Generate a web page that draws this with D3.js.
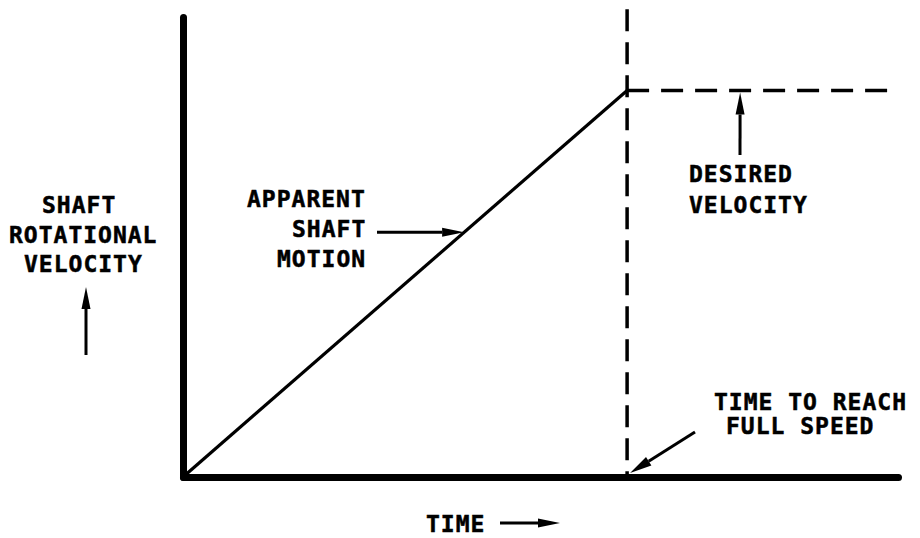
<!DOCTYPE html>
<html lang="en">
<head>
  <meta charset="utf-8">
  <title>Shaft rotational velocity</title>
  <script src="https://cdn.jsdelivr.net/npm/d3@7/dist/d3.min.js"></script>
  <style>
    body { margin: 0; background: #fff; }
    text { font-family: "DejaVu Sans Mono", monospace; font-weight: bold; font-size: 23px; letter-spacing: 1px; fill: #000; stroke: #000; stroke-width: 0.5px; }
  </style>
</head>
<body>
  <div id="chart-area"></div>
  <script>
    // data (time and velocity in units of "time to full speed" / "desired velocity")
    var timeDomain = [0, 1.61];
    var velocityDomain = [0, 1.19];
    var ramp = [{ t: 0, v: 0 }, { t: 1, v: 1 }];
    var desiredLine = [{ t: 1, v: 1 }, { t: 1.606, v: 1 }];
    var fullSpeedLine = [{ t: 1, v: 0 }, { t: 1, v: 1.21 }];

    var yLabel = ["SHAFT", "ROTATIONAL", "VELOCITY"];
    var rampLabel = ["APPARENT", "SHAFT", "MOTION"];
    var desiredLabel = ["DESIRED", "VELOCITY"];
    var fullSpeedLabel = ["TIME TO REACH", "FULL SPEED"];
    var xLabel = "TIME";

    var svgWidth = 920, svgHeight = 538;
    var svg = d3.select("#chart-area").append("svg")
                .attr("width", svgWidth)
                .attr("height", svgHeight);

    var x = d3.scaleLinear().domain(timeDomain).range([183, 898]);
    var y = d3.scaleLinear().domain(velocityDomain).range([477, 17]);

    // axes: heavy lines, no ticks
    svg.append("g")
       .attr("transform", "translate(0," + y(0) + ")")
       .call(d3.axisBottom(x).tickValues([]).tickSizeOuter(0));
    svg.append("g")
       .attr("transform", "translate(" + x(0) + ",0)")
       .call(d3.axisLeft(y).tickValues([]).tickSizeOuter(0));
    svg.selectAll(".domain")
       .attr("stroke", "#000")
       .attr("stroke-width", 7)
       .attr("stroke-linecap", "round");

    var line = d3.line().x(d => x(d.t)).y(d => y(d.v));

    svg.append("path").datum(ramp)
       .attr("d", line).attr("fill", "none")
       .attr("stroke", "#000").attr("stroke-width", 3.2);

    svg.append("path").datum(desiredLine)
       .attr("d", line).attr("fill", "none")
       .attr("stroke", "#000").attr("stroke-width", 3.5)
       .attr("stroke-dasharray", "22,12");

    svg.append("path").datum(fullSpeedLine.slice().reverse())
       .attr("d", line).attr("fill", "none")
       .attr("stroke", "#000").attr("stroke-width", 3.5)
       .attr("stroke-dasharray", "22,11");

    // arrow helper: line with filled head at (x2, y2)
    function arrow(x1, y1, x2, y2, len, half) {
      len = len || 20; half = half || 4.5;
      var a = Math.atan2(y2 - y1, x2 - x1);
      var bx = x2 - len * Math.cos(a), by = y2 - len * Math.sin(a);
      svg.append("line")
         .attr("x1", x1).attr("y1", y1).attr("x2", bx).attr("y2", by)
         .attr("stroke", "#000").attr("stroke-width", 3);
      var pts = [
        [x2, y2],
        [bx + half * Math.sin(a), by - half * Math.cos(a)],
        [bx - half * Math.sin(a), by + half * Math.cos(a)]
      ];
      svg.append("polygon").attr("points", pts.map(p => p.join(",")).join(" ")).attr("fill", "#000");
    }

    function label(lines, xs, y0, step) {
      svg.append("g").selectAll("text").data(lines).enter()
         .append("text")
         .attr("x", (d, i) => xs[i])
         .attr("y", (d, i) => y0 + i * step)
         .text(d => d);
    }

    // y axis label and arrow
    label(yLabel, [42, 9, 24], 213, 29.5);
    arrow(86, 355, 86, 287, 22, 4.5);

    // ramp annotation
    label(rampLabel, [247, 292, 277], 207, 30);
    var tipT = 0.633;
    arrow(377, y(tipT), x(tipT), y(tipT), 22, 4.5);

    // desired velocity annotation
    label(desiredLabel, [689, 689], 182, 31);
    arrow(740, 155, x(1.2545), y(1) + 2, 22, 4.5);

    // time to full speed annotation
    label(fullSpeedLabel, [714, 726], 410, 24);
    arrow(695, 432, x(1) + 3, y(0) - 4, 22, 5);

    // x axis label and arrow
    svg.append("text").attr("x", 426).attr("y", 532).text(xLabel);
    arrow(500, 523, 560, 523, 22, 4.5);
  </script>
</body>
</html>
